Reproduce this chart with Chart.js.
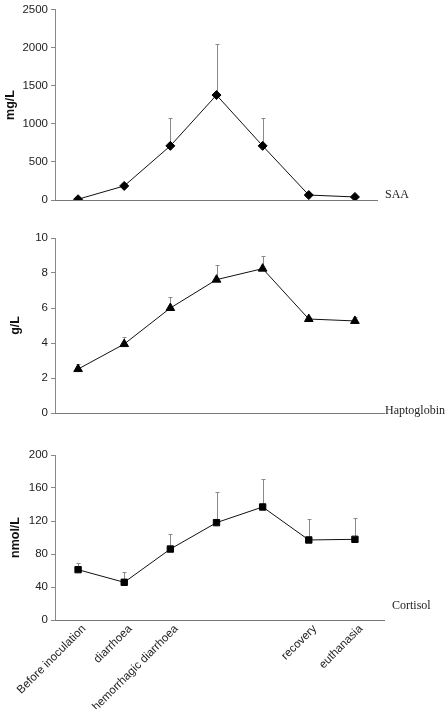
<!DOCTYPE html>
<html>
<head>
<meta charset="utf-8">
<script src="https://cdn.jsdelivr.net/npm/chart.js@4.4.0/dist/chart.umd.min.js"></script>
<style>
  html, body { margin: 0; padding: 0; background: #fff; width: 445px; height: 709px; overflow: hidden; }
  .panel { position: absolute; left: 0; width: 445px; }
</style>
</head>
<body>
<div class="panel" style="top:0;height:215px"><canvas id="saaChart" width="445" height="215"></canvas></div>
<div class="panel" style="top:225px;height:200px"><canvas id="hpChart" width="445" height="200"></canvas></div>
<div class="panel" style="top:440px;height:269px"><canvas id="cortChart" width="445" height="269"></canvas></div>
<script>
// Sampling stages (x categories)
const stages = ['Before inoculation', 'diarrhoea', 'hemorrhagic diarrhoea', '', '', 'recovery', 'euthanasia'];

// SAA (mg/L)
const saaMean = [10, 185, 712, 1380, 712, 65, 40];
const saaErr = [0, 0, 360, 670, 360, 0, 0];
const saaTicks = [0, 500, 1000, 1500, 2000, 2500];

// Haptoglobin (g/L)
const hpMean = [2.51, 3.94, 6.0, 7.62, 8.25, 5.37, 5.26];
const hpErr = [0.29, 0.4, 0.63, 0.84, 0.74, 0.1, 0.23];
const hpTicks = [0, 2, 4, 6, 8, 10];

// Cortisol (nmol/L)
const cortMean = [61, 45.7, 86, 118, 137, 97, 97.8];
const cortErr = [7.7, 12.9, 18, 37, 34, 25, 26];
const cortTicks = [0, 40, 80, 120, 160, 200];

const SANS = "'Liberation Sans', Arial, sans-serif";
const SERIF = "'Liberation Serif', 'Times New Roman', serif";

// upper error bars, drawn under the markers
const errorBars = {
  id: 'errorBars',
  beforeDatasetsDraw(chart, args, opts) {
    const ctx = chart.ctx;
    const y = chart.scales.y;
    const meta = chart.getDatasetMeta(0);
    ctx.save();
    ctx.strokeStyle = '#8a8a8a';
    ctx.lineWidth = 1;
    opts.errors.forEach((e, i) => {
      if (!e) return;
      const pt = meta.data[i];
      const x = Math.round(pt.x) + 0.5;
      const y0 = y.getPixelForValue(opts.means[i]);
      const y1 = Math.round(y.getPixelForValue(opts.means[i] + e)) + 0.5;
      ctx.beginPath();
      ctx.moveTo(x, y0);
      ctx.lineTo(x, y1);
      ctx.moveTo(x - 2, y1);
      ctx.lineTo(x + 2, y1);
      ctx.stroke();
    });
    ctx.restore();
  }
};

// x baseline and the serif name at its right end
const baseline = {
  id: 'baseline',
  afterDraw(chart, args, opts) {
    const ctx = chart.ctx;
    const a = chart.chartArea;
    const yb = Math.round(a.bottom) + 0.5;
    ctx.save();
    ctx.strokeStyle = '#777';
    ctx.lineWidth = 1;
    ctx.beginPath();
    ctx.moveTo(a.left, yb);
    ctx.lineTo(opts.endX, yb);
    ctx.stroke();
    ctx.fillStyle = '#222';
    ctx.font = '12px ' + SERIF;
    ctx.textBaseline = 'middle';
    ctx.fillText(opts.name, opts.textX, opts.textY);
    ctx.restore();
  }
};

function makePanel(id, cfg) {
  const showX = !!cfg.showX;
  return new Chart(document.getElementById(id), {
    type: 'line',
    data: {
      labels: stages,
      datasets: [{
        data: cfg.mean,
        borderColor: '#111',
        borderWidth: 1,
        pointStyle: cfg.marker,
        pointRadius: cfg.radius,
        pointBackgroundColor: '#000',
        pointBorderColor: '#000',
        pointBorderWidth: 1,
        tension: 0
      }]
    },
    plugins: [errorBars, baseline],
    options: {
      responsive: false,
      animation: false,
      events: [],
      layout: { padding: cfg.padding },
      plugins: {
        legend: { display: false },
        tooltip: { enabled: false },
        errorBars: { means: cfg.mean, errors: cfg.err },
        baseline: cfg.baseline
      },
      scales: {
        x: {
          type: 'category',
          offset: true,
          grid: { display: false },
          border: { display: false },
          ticks: {
            display: showX,
            autoSkip: false,
            maxRotation: 45,
            minRotation: 45,
            padding: -6,
            labelOffset: 6,
            color: '#222',
            font: { family: SANS, size: 11.5 }
          },
          afterFit: s => { s.height = showX ? cfg.xHeight : 0; }
        },
        y: {
          min: cfg.ticks[0],
          max: cfg.ticks[cfg.ticks.length - 1],
          afterBuildTicks: s => { s.ticks = cfg.ticks.map(v => ({ value: v })); },
          grid: { display: true, drawOnChartArea: false, drawTicks: true, tickLength: 4, color: '#888' },
          border: { display: true, color: '#888', width: 1 },
          ticks: {
            color: '#222',
            padding: 3,
            font: { family: SANS, size: 11.5 },
            callback: v => String(v)
          },
          title: {
            display: true,
            text: cfg.unit,
            color: '#111',
            padding: cfg.titlePad,
            font: { family: SANS, size: 12.5, weight: 'bold' }
          },
          afterFit: s => { s.width = 55; }
        }
      }
    }
  });
}

makePanel('saaChart', {
  mean: saaMean, err: saaErr, ticks: saaTicks, unit: 'mg/L',
  marker: 'rectRot', radius: 4.5,
  padding: { top: 7, bottom: 15, left: 0, right: 67 },
  titlePad: { top: 3, bottom: 0 },
  baseline: { endX: 378, name: 'SAA', textX: 385, textY: 195 }
});

makePanel('hpChart', {
  mean: hpMean, err: hpErr, ticks: hpTicks, unit: 'g/L',
  marker: 'triangle', radius: 5,
  padding: { top: 13, bottom: 12, left: 0, right: 67 },
  titlePad: { top: 8, bottom: 0 },
  baseline: { endX: 385, name: 'Haptoglobin', textX: 385, textY: 186 }
});

makePanel('cortChart', {
  mean: cortMean, err: cortErr, ticks: cortTicks, unit: 'nmol/L',
  marker: 'rect', radius: 4.5, showX: true, xHeight: 89,
  padding: { top: 15, bottom: 0, left: 0, right: 67 },
  titlePad: { top: 8, bottom: 0 },
  baseline: { endX: 385, name: 'Cortisol', textX: 392, textY: 166 }
});
</script>
</body>
</html>
